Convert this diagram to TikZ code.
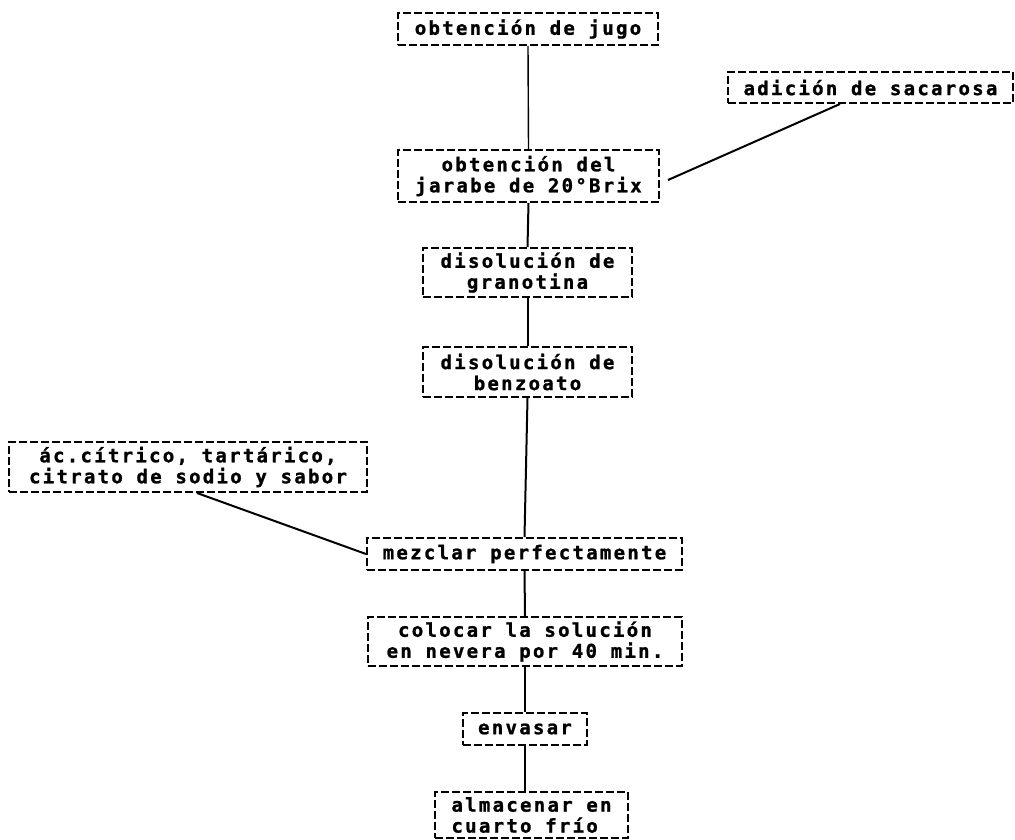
\documentclass[tikz,border=0pt]{standalone}
\usepackage{fontspec}
\newfontfamily\dotfont[LetterSpace=12, BoldFeatures={FakeBold=1.2}]{DejaVu Sans Mono}
\begin{document}
\begin{tikzpicture}[x=1pt,y=-1pt,
  stepbox/.style={draw=black, line width=2pt, dash pattern=on 8pt off 3pt,
    inner sep=0pt, align=center,
    font=\dotfont\bfseries\fontsize{19}{21}\selectfont},
  link/.style={draw=black, line width=2pt}]
\useasboundingbox[fill=white] (0,0) rectangle (1015,840);

\node[stepbox, minimum width=260pt, minimum height=32pt] (jugo) at (528,29) {obtención de jugo};
\node[stepbox, minimum width=285pt, minimum height=31pt] (sacarosa) at (870.5,87.5) {adición de sacarosa};
\node[stepbox, minimum width=261pt, minimum height=52pt] (jarabe) at (528.5,176) {obtención del\\jarabe de 20°Brix};
\node[stepbox, minimum width=209pt, minimum height=49pt] (grano) at (527.5,272.5) {disolución de\\granotina};
\node[stepbox, minimum width=209pt, minimum height=50pt] (benzo) at (527.5,372) {disolución de\\benzoato};
\node[stepbox, minimum width=358pt, minimum height=50pt] (acido) at (188,467) {ác.cítrico, tartárico,\\citrato de sodio y sabor};
\node[stepbox, minimum width=315pt, minimum height=32pt] (mezclar) at (524.5,554) {mezclar perfectamente};
\node[stepbox, minimum width=314pt, minimum height=49pt] (colocar) at (525,641.5) {colocar la solución\\en nevera por 40 min.};
\node[stepbox, minimum width=124pt, minimum height=32pt] (envasar) at (525,729) {envasar};
\node[stepbox, minimum width=193pt, minimum height=46pt, align=left] (almacenar) at (531.5,815) {almacenar en\\cuarto frío};

\coordinate (sacA) at ([xshift=-30.5pt]sacarosa.south);
\coordinate (acA) at ([xshift=9pt]acido.south);

\draw[link, line width=1.4pt] (jugo.south) -- (jarabe.north);
\draw[link] (sacA) -- ([xshift=8pt,yshift=-4pt]jarabe.east);
\draw[link] (jarabe.south) -- (grano.north);
\draw[link] (grano.south) -- (benzo.north);
\draw[link] (benzo.south) -- (mezclar.north);
\draw[link] (acA) -- (mezclar.west);
\draw[link] (mezclar.south) -- (colocar.north);
\draw[link] (colocar.south) -- (envasar.north);
\draw[link] (envasar.south) -- (envasar.south |- almacenar.north);
\end{tikzpicture}
\end{document}
